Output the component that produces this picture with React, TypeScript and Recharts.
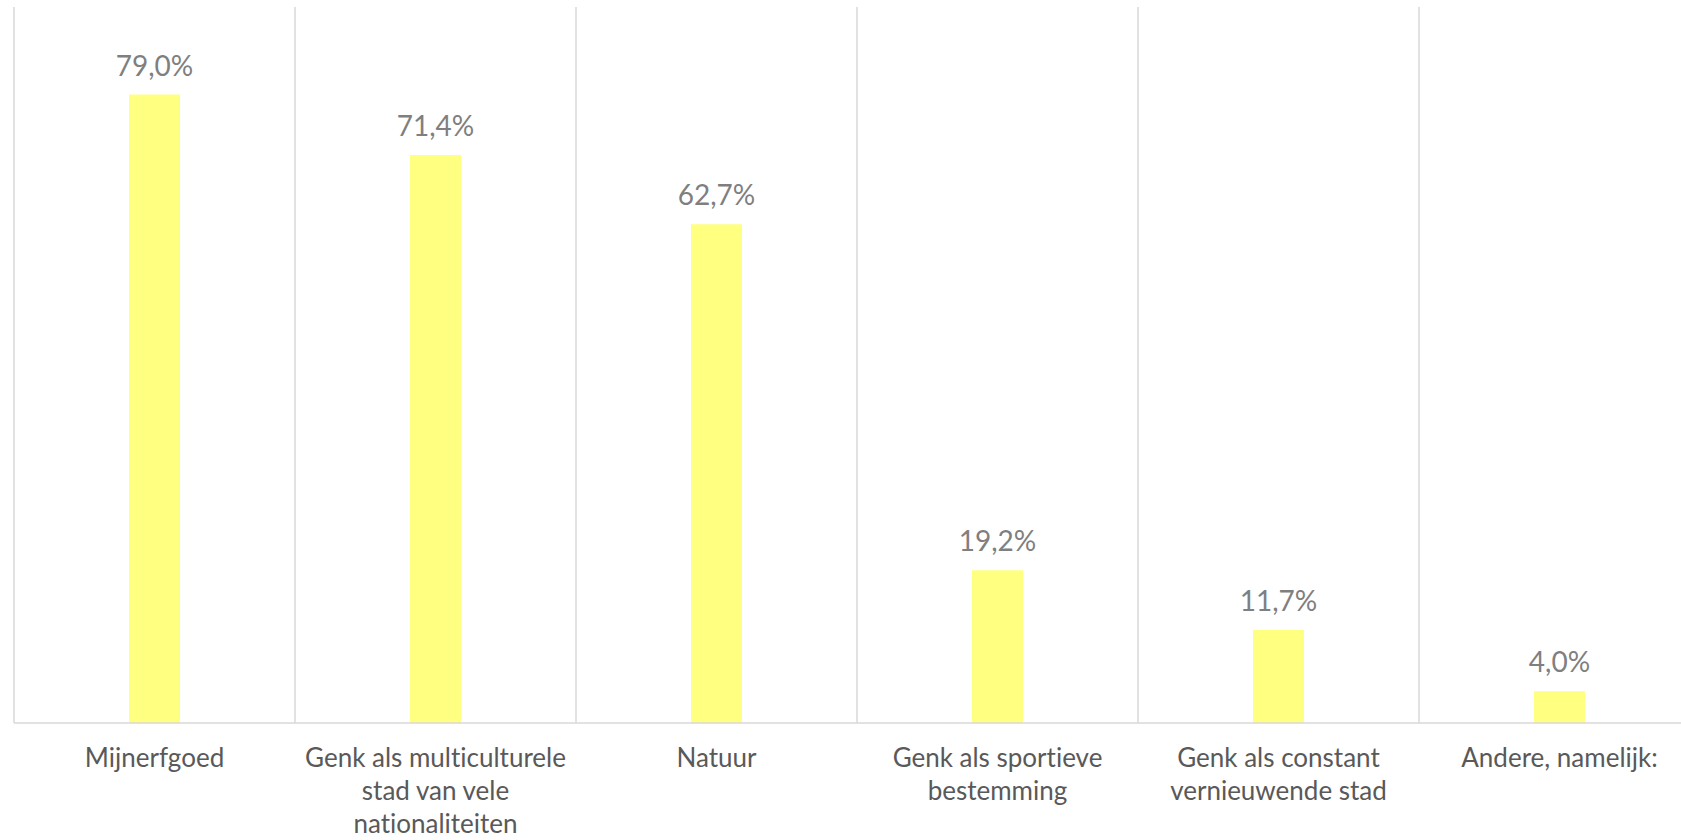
import { BarChart, Bar, XAxis, YAxis, CartesianGrid, LabelList } from 'recharts';

const categories = [
    'Mijnerfgoed',
    'Genk als multiculturele\nstad van vele\nnationaliteiten',
    'Natuur',
    'Genk als sportieve\nbestemming',
    'Genk als constant\nvernieuwende stad',
    'Andere, namelijk:',
];
const shares = [79.0, 71.4, 62.7, 19.2, 11.7, 4.0];

const data = categories.map((name, i) => ({ name, value: shares[i] }));

const fmt = (v: number) => v.toFixed(1).replace('.', ',') + '%';

const CategoryTick = (props: any) => {
    const { x, y, payload } = props;
    const lines = String(payload.value).split('\n');
    return (
        <text
            x={x}
            y={y}
            textAnchor="middle"
            fill="#595959"
            fontSize={26}
            fontFamily="Lato"
            style={{ fontVariantLigatures: 'none' }}
        >
            {lines.map((line, i) => (
                <tspan key={i} x={x} dy={i === 0 ? 44 : 33}>{line}</tspan>
            ))}
        </text>
    );
};

const ValueLabel = (props: any) => {
    const { x, y, width, value } = props;
    return (
        <text x={x + width / 2} y={y - 19} textAnchor="middle" fill="#7f7f7f" fontSize={28} fontFamily="Lato">
            {fmt(value)}
        </text>
    );
};

export default function App() {
    return (
        <div style={{ position: 'absolute', left: 0, top: 0, background: '#fff' }}>
            <BarChart
                width={1700}
                height={840}
                data={data}
                margin={{ top: 7, right: 0, bottom: 0, left: 14 }}
            >
                <CartesianGrid
                    horizontal={false}
                    stroke="#d9d9d9"
                    strokeWidth={1.5}
                    verticalCoordinatesGenerator={({ offset }: any) =>
                        categories.map((_, i) => offset.left + (i * offset.width) / categories.length)
                            .concat([offset.left + offset.width])
                    }
                />
                <XAxis
                    dataKey="name"
                    interval={0}
                    height={117}
                    tickLine={false}
                    tickSize={0}
                    tickMargin={0}
                    axisLine={{ stroke: '#d9d9d9', strokeWidth: 1.5 }}
                    tick={<CategoryTick />}
                />
                <YAxis hide domain={[0, 90]} />
                <Bar dataKey="value" fill="#ffff80" barSize={51} isAnimationActive={false}>
                    <LabelList dataKey="value" content={<ValueLabel />} />
                </Bar>
            </BarChart>
        </div>
    );
}
